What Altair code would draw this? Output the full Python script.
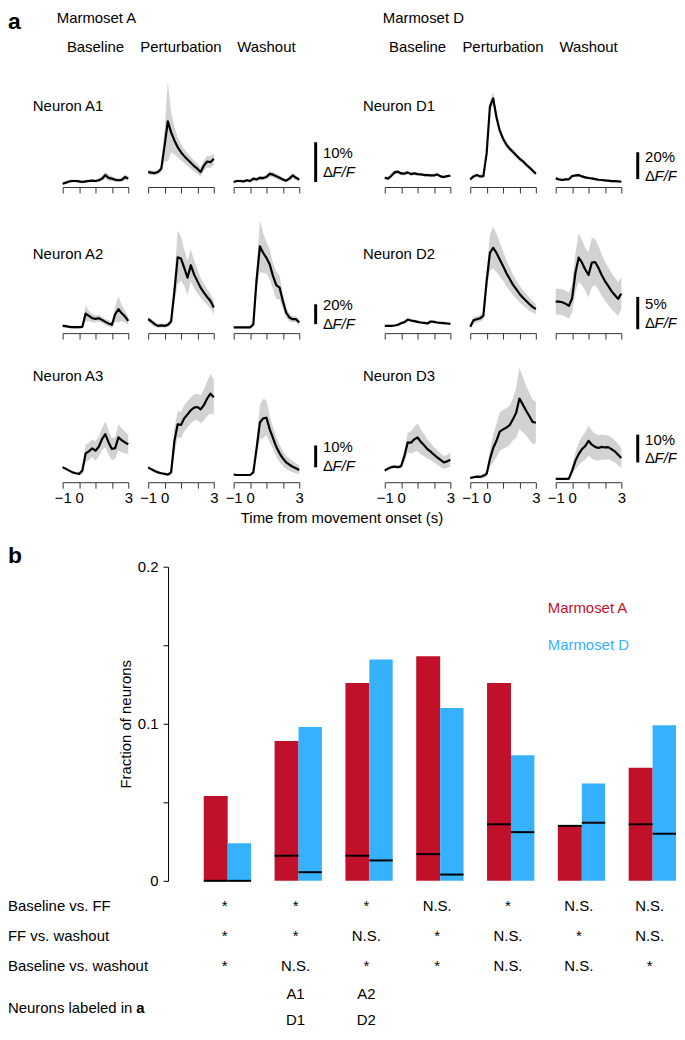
import altair as alt
import pandas as pd

FONT = "Liberation Sans"
SHADE = "#d2d2d2"
RED = "#C0102A"
BLUE = "#35B1FD"

# ---------------- panel a data (% dF/F) ----------------
TIME = [-1.0, -0.8, -0.6, -0.4, -0.2, 0.0, 0.2, 0.4, 0.6, 0.8, 1.0,
        1.2, 1.4, 1.6, 1.8, 2.0, 2.2, 2.4, 2.6, 2.8, 3.0]

A1_BASE_M = [0.8, 1.1, 1.4, 1.5, 1.5, 1.4, 1.25, 1.4, 1.5, 1.6, 1.5, 1.7, 2.1, 3.0, 2.3, 2.1, 1.8, 1.7, 1.8, 2.5, 2.1]
A1_BASE_S = [0.3, 0.3, 0.4, 0.4, 0.4, 0.4, 0.4, 0.4, 0.4, 0.4, 0.4, 0.5, 0.6, 0.9, 0.8, 0.6, 0.5, 0.5, 0.5, 0.7, 0.6]
A1_PERT_M = [3.75, 3.6, 3.5, 3.75, 4.6, 10.4, 16.5, 13.75, 11.7, 10.0, 8.75, 7.75, 6.9, 6.1, 5.25, 4.6, 3.75, 5.4, 6.4, 6.25, 7.1]
A1_PERT_S = [0.6, 0.6, 0.6, 0.6, 0.8, 4.0, 10.0, 5.0, 3.5, 2.5, 2.0, 1.8, 1.6, 1.5, 1.4, 1.3, 1.2, 1.3, 1.5, 1.5, 1.5]
A1_WASH_M = [1.25, 1.5, 1.5, 1.4, 1.7, 1.5, 2.1, 1.9, 2.3, 2.25, 2.5, 3.3, 3.1, 2.7, 2.3, 1.9, 1.6, 2.1, 2.9, 2.3, 1.9]
A1_WASH_S = [0.4, 0.4, 0.4, 0.4, 0.4, 0.4, 0.5, 0.5, 0.5, 0.5, 0.6, 0.7, 0.7, 0.6, 0.6, 0.5, 0.5, 0.5, 0.6, 0.6, 0.5]

A2_BASE_M = [7.3, 7.0, 6.3, 6.0, 6.0, 6.0, 6.3, 19.7, 17.3, 15.0, 14.3, 15.0, 13.3, 11.3, 9.7, 8.3, 19.0, 24.0, 20.0, 16.7, 12.3]
A2_BASE_S = [1.5, 1.5, 1.5, 1.5, 1.5, 1.5, 1.5, 8.0, 5.0, 4.0, 3.5, 3.5, 3.0, 3.0, 3.0, 3.0, 8.0, 13.0, 8.0, 6.0, 4.0]
A2_PERT_M = [14.0, 11.7, 9.0, 7.3, 7.7, 7.3, 8.3, 11.7, 42.3, 76.3, 75.0, 65.7, 55.7, 68.3, 59.0, 52.3, 45.7, 40.7, 36.3, 32.3, 25.7]
A2_PERT_S = [3.0, 3.0, 2.5, 2.0, 2.0, 2.0, 2.0, 3.0, 12.0, 27.0, 22.0, 18.0, 17.0, 16.0, 14.0, 12.0, 10.0, 9.0, 8.0, 7.0, 7.0]
A2_WASH_M = [5.7, 5.7, 5.7, 5.7, 5.7, 5.7, 9.0, 54.0, 87.3, 80.7, 75.7, 69.0, 57.3, 48.3, 45.7, 32.3, 20.7, 15.7, 14.0, 14.0, 10.7]
A2_WASH_S = [1.0, 1.0, 1.0, 1.0, 1.0, 1.0, 2.0, 10.0, 26.0, 20.0, 16.0, 15.0, 13.0, 14.0, 12.0, 8.0, 5.0, 4.0, 3.0, 3.0, 3.0]

A3_BASE_M = [6.8, 6.1, 5.3, 4.5, 4.1, 3.8, 5.3, 13.2, 14.1, 15.5, 14.4, 16.2, 19.7, 22.0, 18.2, 15.2, 15.6, 20.5, 19.2, 18.2, 17.4]
A3_BASE_S = [0.5, 0.5, 0.5, 0.5, 0.5, 0.5, 1.5, 4.0, 4.0, 4.0, 4.5, 4.5, 5.0, 6.0, 5.5, 5.0, 5.0, 6.0, 5.5, 5.0, 4.5]
A3_PERT_M = [6.8, 5.9, 5.1, 4.5, 4.1, 3.8, 3.5, 4.5, 18.9, 26.5, 26.2, 29.2, 31.0, 32.9, 34.1, 34.4, 33.3, 35.3, 38.3, 40.5, 38.9]
A3_PERT_S = [0.5, 0.5, 0.5, 0.5, 0.5, 0.5, 0.5, 1.5, 6.0, 6.0, 6.0, 6.0, 6.0, 6.0, 6.0, 6.0, 6.5, 7.0, 8.0, 9.0, 8.0]
A3_WASH_M = [3.5, 3.3, 3.3, 3.3, 3.3, 3.3, 4.5, 15.6, 27.3, 29.2, 29.5, 24.2, 20.2, 16.2, 13.2, 10.9, 9.1, 8.0, 7.1, 6.4, 5.6]
A3_WASH_S = [0.3, 0.3, 0.3, 0.3, 0.3, 0.3, 0.8, 4.0, 8.0, 9.0, 8.0, 6.0, 5.0, 4.5, 4.0, 3.5, 3.0, 2.8, 2.5, 2.3, 2.0]

D1_BASE_M = [6.9, 6.2, 8.4, 10.9, 11.4, 10.1, 9.9, 10.9, 9.6, 10.1, 9.6, 9.4, 8.9, 8.9, 8.6, 8.6, 9.4, 7.9, 7.4, 8.1, 8.4]
D1_BASE_S = [1.2, 1.2, 1.3, 1.5, 1.5, 1.3, 1.2, 1.2, 1.2, 1.2, 1.2, 1.1, 1.1, 1.1, 1.1, 1.1, 1.1, 1.1, 1.1, 1.1, 1.1]
D1_PERT_M = [5.7, 7.9, 8.9, 7.9, 8.1, 25.0, 60.0, 66.0, 52.0, 42.0, 36.0, 31.6, 28.6, 26.2, 23.7, 21.2, 19.3, 16.8, 14.6, 12.3, 9.9]
D1_PERT_S = [1.0, 1.2, 1.2, 1.2, 1.2, 2.5, 4.0, 5.0, 3.5, 2.8, 2.5, 2.2, 2.0, 2.0, 1.8, 1.8, 1.6, 1.6, 1.5, 1.5, 1.4]
D1_WASH_M = [6.4, 5.7, 5.2, 5.7, 5.7, 8.1, 8.6, 8.9, 7.9, 7.2, 6.7, 6.4, 5.9, 5.4, 5.2, 4.9, 4.7, 4.4, 4.4, 4.2, 3.9]
D1_WASH_S = [0.9, 0.9, 0.9, 0.9, 0.9, 1.0, 1.1, 1.1, 1.0, 1.0, 0.9, 0.9, 0.9, 0.8, 0.8, 0.8, 0.8, 0.8, 0.8, 0.8, 0.8]

D2_BASE_M = [1.13, 1.13, 1.13, 1.18, 1.28, 1.54, 1.69, 2.1, 1.95, 1.85, 1.74, 1.64, 1.59, 1.49, 1.8, 1.74, 1.64, 1.59, 1.54, 1.49, 1.44]
D2_BASE_S = [0.15, 0.15, 0.15, 0.15, 0.15, 0.18, 0.2, 0.25, 0.22, 0.2, 0.2, 0.2, 0.2, 0.2, 0.22, 0.2, 0.2, 0.2, 0.2, 0.2, 0.2]
D2_PERT_M = [0.97, 2.0, 2.15, 2.3, 2.67, 8.05, 12.4, 13.2, 12.4, 11.4, 10.4, 9.3, 8.4, 7.5, 6.8, 6.1, 5.5, 5.0, 4.5, 4.05, 3.7]
D2_PERT_S = [0.3, 0.5, 0.5, 0.5, 0.6, 1.5, 2.8, 3.2, 3.0, 2.6, 2.3, 2.0, 1.8, 1.6, 1.4, 1.3, 1.2, 1.1, 1.0, 0.9, 0.8]
D2_WASH_M = [4.87, 4.87, 4.77, 4.56, 4.2, 5.4, 9.3, 11.7, 10.9, 9.85, 9.0, 10.9, 11.0, 10.1, 9.0, 8.05, 7.3, 6.5, 5.9, 5.3, 6.1]
D2_WASH_S = [2.0, 2.0, 2.0, 2.0, 2.0, 2.2, 3.0, 3.8, 3.5, 3.3, 3.5, 3.8, 3.6, 3.4, 3.2, 3.0, 2.9, 2.8, 2.7, 2.6, 2.5]

D3_BASE_M = [4.2, 4.9, 5.4, 5.6, 5.4, 5.8, 9.5, 14.3, 14.2, 15.4, 16.1, 14.5, 13.3, 11.9, 11.0, 9.9, 8.9, 8.0, 7.1, 7.5, 8.1]
D3_BASE_S = [0.5, 0.5, 0.5, 0.5, 0.5, 0.8, 2.0, 3.5, 4.0, 4.5, 5.0, 4.5, 4.0, 3.5, 3.0, 2.8, 2.6, 2.4, 2.3, 2.3, 2.5]
D3_PERT_M = [1.5, 1.8, 2.0, 1.9, 2.3, 3.0, 8.3, 12.3, 14.9, 18.2, 19.0, 19.6, 20.5, 22.6, 25.0, 30.1, 28.0, 25.8, 23.8, 21.7, 21.4]
D3_PERT_S = [0.5, 0.5, 0.5, 0.5, 0.8, 1.0, 3.0, 5.0, 6.0, 7.0, 7.0, 7.0, 7.0, 7.5, 9.0, 11.0, 10.0, 9.0, 8.5, 8.0, 7.5]
D3_WASH_M = [1.2, 1.2, 1.2, 1.2, 1.3, 4.2, 7.7, 10.1, 11.9, 13.0, 14.9, 13.5, 12.7, 12.3, 12.7, 12.5, 12.6, 11.9, 11.1, 9.9, 8.7]
D3_WASH_S = [0.3, 0.3, 0.3, 0.3, 0.5, 1.5, 3.0, 4.0, 4.5, 5.0, 5.4, 5.0, 4.8, 4.6, 4.5, 4.4, 4.3, 4.2, 4.0, 3.8, 3.6]

NEURONS_A = ["A1", "A2", "A3"]
NEURONS_D = ["D1", "D2", "D3"]
CONDITIONS = ["base", "pert", "wash"]
COND_TITLES = ["Baseline", "Perturbation", "Washout"]
Y_TOP = {"A1": 28.75, "A2": 119.0, "A3": 55.45, "D1": 85.2, "D2": 18.3, "D3": 43.6}
SCALE_PCT = {"A1": 10, "A2": 20, "A3": 10, "D1": 20, "D2": 5, "D3": 10}
SCALE_BASE = {"A1": 1.25, "A2": 9.0, "A3": 6.8, "D1": 5.9, "D2": 0.6, "D3": 7.1}

TRACES = {
    ("A1", "base"): (A1_BASE_M, A1_BASE_S), ("A1", "pert"): (A1_PERT_M, A1_PERT_S), ("A1", "wash"): (A1_WASH_M, A1_WASH_S),
    ("A2", "base"): (A2_BASE_M, A2_BASE_S), ("A2", "pert"): (A2_PERT_M, A2_PERT_S), ("A2", "wash"): (A2_WASH_M, A2_WASH_S),
    ("A3", "base"): (A3_BASE_M, A3_BASE_S), ("A3", "pert"): (A3_PERT_M, A3_PERT_S), ("A3", "wash"): (A3_WASH_M, A3_WASH_S),
    ("D1", "base"): (D1_BASE_M, D1_BASE_S), ("D1", "pert"): (D1_PERT_M, D1_PERT_S), ("D1", "wash"): (D1_WASH_M, D1_WASH_S),
    ("D2", "base"): (D2_BASE_M, D2_BASE_S), ("D2", "pert"): (D2_PERT_M, D2_PERT_S), ("D2", "wash"): (D2_WASH_M, D2_WASH_S),
    ("D3", "base"): (D3_BASE_M, D3_BASE_S), ("D3", "pert"): (D3_PERT_M, D3_PERT_S), ("D3", "wash"): (D3_WASH_M, D3_WASH_S),
}

# ---------------- panel b data ----------------
GROUPS = [1, 2, 3, 4, 5, 6, 7]
FRAC_A = [0.054, 0.089, 0.126, 0.143, 0.126, 0.035, 0.072]
FRAC_D = [0.024, 0.098, 0.141, 0.110, 0.080, 0.062, 0.099]
LINE_A = [0.0, 0.016, 0.016, 0.017, 0.036, 0.035, 0.036]
LINE_D = [0.0, 0.0055, 0.013, 0.004, 0.031, 0.037, 0.030]
SIG_BASE_FF = ["*", "*", "*", "N.S.", "*", "N.S.", "N.S."]
SIG_FF_WASH = ["*", "*", "N.S.", "*", "N.S.", "*", "N.S."]
SIG_BASE_WASH = ["*", "N.S.", "*", "*", "N.S.", "N.S.", "*"]
LABELED_A = ["", "A1", "A2", "", "", "", ""]
LABELED_D = ["", "D1", "D2", "", "", "", ""]
ROW_LABELS = ["Baseline vs. FF", " FF vs. washout", "Baseline vs. washout"]

# ---------------- layout constants ----------------
PW = 66
ROW_H = [115, 119, 122]
NEURON_LABEL_Y = [34, 39, 15]
SB_X = 4.0
SB_TX = 4.45
B_WIDTH = 617
XS = alt.Scale(domain=[-1, 3], nice=False, zero=False)


def x_axis(show_labels):
    return alt.Axis(values=[-1, 0, 1, 2, 3], tickSize=6, tickColor="#333333", tickWidth=1,
                    domainColor="#333333", domainWidth=1, grid=False, title=None,
                    labels=show_labels,
                    labelExpr="datum.value == -1 ? '\u22121' : (datum.value == 0 ? '0' : (datum.value == 3 ? '3' : ''))",
                    labelFontSize=15, labelColor="black", labelPadding=2,
                    labelFlush=False, labelOverlap=False)


def label(text, x, y, align="left", baseline="middle", size=15, weight="normal",
          color="black", style="normal"):
    return alt.Chart(pd.DataFrame({"v": [0]})).mark_text(
        text=text, align=align, baseline=baseline, fontSize=size, fontWeight=weight,
        color=color, fontStyle=style).encode(x=alt.value(x), y=alt.value(y))


def scalebar(nid, ys, xa):
    d = pd.DataFrame({"x": [SB_X], "xt": [SB_TX], "y0": [SCALE_BASE[nid]],
                      "pct": [SCALE_PCT[nid]], "lab": [f"{SCALE_PCT[nid]}%"]})
    b = alt.Chart(d).transform_calculate(y1="datum.y0 + datum.pct", yc="datum.y0 + datum.pct / 2")
    rule = b.mark_rule(color="black", strokeWidth=3).encode(
        x=alt.X("x:Q", scale=XS, axis=xa), y=alt.Y("y0:Q", scale=ys, axis=None), y2=alt.Y2("y1"))
    enc = dict(x=alt.X("xt:Q", scale=XS, axis=xa), y=alt.Y("yc:Q", scale=ys, axis=None))
    pct = b.mark_text(align="left", dy=-9, fontSize=15).encode(text="lab:N", **enc)
    delta = b.mark_text(align="left", dy=10, fontSize=15, text="\u0394").encode(**enc)
    ff = b.mark_text(align="left", dy=10, dx=9.5, fontSize=15, fontStyle="italic", text="F/F").encode(**enc)
    return [rule, pct, delta, ff]


def trace_panel(nid, cond, row, extras=()):
    m, s = TRACES[(nid, cond)]
    df = pd.DataFrame({"t": TIME, "m": m, "s": s})
    ys = alt.Scale(domain=[0, Y_TOP[nid]], nice=False, zero=False)
    xa = x_axis(row == 2)
    base = alt.Chart(df).transform_calculate(lo="datum.m - datum.s", hi="datum.m + datum.s")
    band = base.mark_area(color=SHADE).encode(
        x=alt.X("t:Q", scale=XS, axis=xa), y=alt.Y("lo:Q", scale=ys, axis=None), y2=alt.Y2("hi"))
    line = base.mark_line(color="black", strokeWidth=2.2, strokeJoin="round").encode(
        x=alt.X("t:Q", scale=XS, axis=xa), y=alt.Y("m:Q", scale=ys, axis=None))
    layers = [band, line]
    if cond == "wash":
        layers += scalebar(nid, ys, xa)
    layers += list(extras)
    return alt.layer(*layers).properties(width=PW, height=ROW_H[row])


def spacer(w, h, extras=()):
    base = alt.Chart(pd.DataFrame({"v": [0]})).mark_point(opacity=0, size=1).encode(
        x=alt.value(0), y=alt.value(0))
    return alt.layer(base, *extras).properties(width=w, height=h)


cells = []
for r in range(3):
    for side, neurons in (("A", NEURONS_A), ("D", NEURONS_D)):
        nid = neurons[r]
        for c, cond in enumerate(CONDITIONS):
            extras = []
            if r == 0:
                extras.append(label(COND_TITLES[c], PW / 2, -26, align="center"))
            if c == 0:
                extras.append(label(f"Neuron {nid}", -30 if side == "A" else -22, NEURON_LABEL_Y[r]))
                if r == 0:
                    extras.append(label(f"Marmoset {side}", -6 if side == "A" else -2, -49.5,
                                        baseline="alphabetic"))
                    if side == "A":
                        extras.append(label("a", -55, -43.6, baseline="alphabetic", size=23, weight="bold"))
            cells.append(trace_panel(nid, cond, r, extras))
        if side == "A":
            if r == 2:
                cells.append(spacer(46, 1, [label("Time from movement onset (s)", 23, 158, align="center")]))
            else:
                cells.append(spacer(46, 1))

for _ in range(7):
    cells.append(spacer(1, 29))

# ---------------- panel b ----------------
bar_df = pd.DataFrame({
    "g": GROUPS + GROUPS,
    "series": ["Marmoset A"] * 7 + ["Marmoset D"] * 7,
    "frac": FRAC_A + FRAC_D,
    "line": LINE_A + LINE_D,
})
# panel b occupies the first grid column only for layout; its x range reaches across the page
BX = alt.Scale(domain=[-1.33, 7.33], range=[0, B_WIDTH], nice=False, zero=False)
BY = alt.Scale(domain=[0, 0.2], nice=False, zero=False)
yaxis = alt.Axis(values=[0, 0.05, 0.1, 0.15, 0.2], offset=-106, tickSize=5, tickColor="black",
                 tickWidth=1, domainColor="black", domainWidth=1, grid=False,
                 labelExpr="abs(datum.value) < 1e-9 ? '0' : (abs(datum.value - 0.1) < 1e-9 ? '0.1' : (abs(datum.value - 0.2) < 1e-9 ? '0.2' : ''))",
                 labelFontSize=15, labelColor="black", labelPadding=5,
                 title="Fraction of neurons", titleFontSize=15, titleFontWeight="normal",
                 titleColor="black", titlePadding=4)
bars_base = alt.Chart(bar_df).transform_calculate(
    xa="datum.series == 'Marmoset A' ? datum.g - 0.338 : datum.g",
    xb="datum.series == 'Marmoset A' ? datum.g : datum.g + 0.33")
bars = bars_base.mark_bar().encode(
    x=alt.X("xa:Q", scale=BX, axis=None), x2=alt.X2("xb"),
    y=alt.Y("frac:Q", scale=BY, axis=yaxis, stack=None), y2=alt.Y2Datum(0),
    color=alt.Color("series:N", scale=alt.Scale(domain=["Marmoset A", "Marmoset D"], range=[RED, BLUE]),
                    legend=None))
rules = bars_base.mark_rule(color="black", strokeWidth=2).encode(
    x=alt.X("xa:Q", scale=BX, axis=None), x2=alt.X2("xb"),
    y=alt.Y("line:Q", scale=BY, axis=yaxis))

sig_df = pd.DataFrame({"g": GROUPS, "bff": SIG_BASE_FF, "ffw": SIG_FF_WASH, "bw": SIG_BASE_WASH,
                       "la": LABELED_A, "ld": LABELED_D})
sig_layers = []
for field, yy in (("bff", 341), ("ffw", 372), ("bw", 402), ("la", 430), ("ld", 456)):
    sig_layers.append(alt.Chart(sig_df).mark_text(fontSize=15, dx=-3).encode(
        x=alt.X("g:Q", scale=BX, axis=None), y=alt.value(yy), text=f"{field}:N"))

b_labels = [
    label("b", -55, -4, baseline="alphabetic", size=23, weight="bold"),
    label("Marmoset A", 488, 42, color=RED),
    label("Marmoset D", 488, 79, color=BLUE),
    label(ROW_LABELS[0], -55, 341),
    label(ROW_LABELS[1], -55, 372),
    label(ROW_LABELS[2], -55, 402),
    label("Neurons labeled in", -55, 444),
    label("a", 74, 444, weight="bold"),
]
panel_b = alt.layer(bars, rules, *sig_layers, *b_labels).properties(width=PW, height=316)
cells.append(panel_b)

chart = alt.concat(
    *cells, columns=7, spacing={"row": 28, "column": 20}, bounds="flush",
    align="each", padding=0,
).configure(font=FONT).configure_view(stroke=None)

chart.save("out.html", embed_options={"renderer": "svg", "actions": False})
